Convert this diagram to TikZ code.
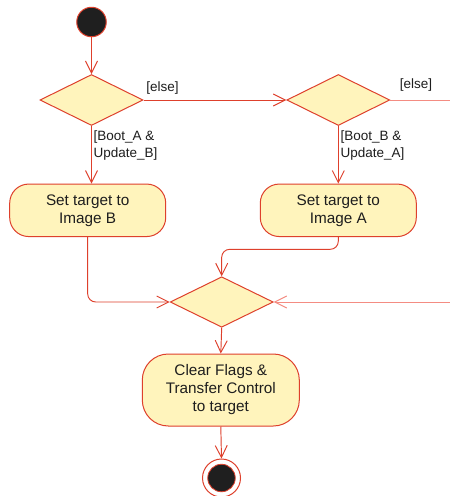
\documentclass[tikz,border=0pt]{standalone}
\usepackage{fontspec}
\setmainfont{Liberation Sans}
\usetikzlibrary{shapes.geometric,arrows.meta}
\definecolor{umlred}{RGB}{222,64,44}
\definecolor{umlpale}{RGB}{244,140,130}
\definecolor{umlfill}{RGB}{255,244,188}
\definecolor{umltext}{RGB}{30,30,30}
\tikzset{
  flow/.style={draw=umlred, line width=0.95pt, -{Straight Barb[length=12pt,width=12pt,line width=0.95pt]}},
  paleflow/.style={draw=umlpale, line width=0.95pt},
  decision/.style={diamond, draw=umlred, fill=umlfill, line width=1pt, minimum width=103pt, minimum height=51pt, inner sep=0pt},
  action/.style={rectangle, rounded corners=19pt, draw=umlred, fill=umlfill, line width=1pt, minimum width=156pt, align=center, text=umltext, font=\fontsize{15.3}{18}\selectfont},
  guard/.style={inner sep=0pt, text=umltext, font=\fontsize{13.5}{16.7}\selectfont, align=left},
}
\begin{document}
\begin{tikzpicture}[x=1pt,y=-1pt]
\useasboundingbox[fill=white] (0,0) rectangle (450,496);
\node[circle, draw=umlred, fill=black!88, line width=1pt, minimum size=29.5pt, inner sep=0pt] (start) at (91.5,22) {};
\node[decision] (d1) at (91.5,100) {};
\node[decision] (d2) at (338.3,100) {};
\node[action, minimum height=52.5pt] (b1) at (87.7,210.3) {Set target to\\Image B};
\node[action, minimum height=52.5pt] (b2) at (338.3,210.3) {Set target to\\Image A};
\node[decision, minimum height=50.5pt] (m) at (221.7,302) {};
\node[action, minimum width=157pt, minimum height=72pt, rounded corners=26pt] (b3) at (220.8,390) {Clear Flags \&\\Transfer Control\\to target};
\node[circle, draw=umlred, line width=1pt, minimum size=38pt, inner sep=0pt] (end) at (221.5,478) {};
\node[circle, draw=umlred, fill=black!88, line width=0.8pt, minimum size=27.5pt, inner sep=0pt] (endin) at (221.5,478) {};
\coordinate (out1) at (450,100);
\coordinate (in2) at (450,302);
\coordinate (turn) at (0,249.3);
% labels
\node[guard] (e1) at (162.5,88.5) {[else]};
\node[guard] (e2) at (416,85) {[else]};
\node[guard, anchor=west] (g1) at (93.5,145.5) {[Boot\_A \&\\Update\_B]};
\node[guard, anchor=west] (g2) at (340.5,145.5) {[Boot\_B \&\\Update\_A]};
% connectors
\draw[flow] (start) -- (d1);
\draw[flow] (d1.east) -- (d2.west);
\draw[flow] (d1.south) -- (d1.south |- b1.north);
\draw[flow] (d2.south) -- (b2.north);
\draw[paleflow] (d2.east) -- (out1);
\draw[flow, rounded corners=8pt] (b1.south) |- (m.west);
\draw[flow, rounded corners=8pt] (b2.south) -- (b2.south |- turn) -| (m.north);
\draw[paleflow, -{Straight Barb[length=12pt,width=12pt,line width=0.95pt]}] (in2) -- (m.east);
\draw[flow] (m.south) -- (b3.north);
\draw[flow] (b3.south) -- (end.north);
\end{tikzpicture}
\end{document}
